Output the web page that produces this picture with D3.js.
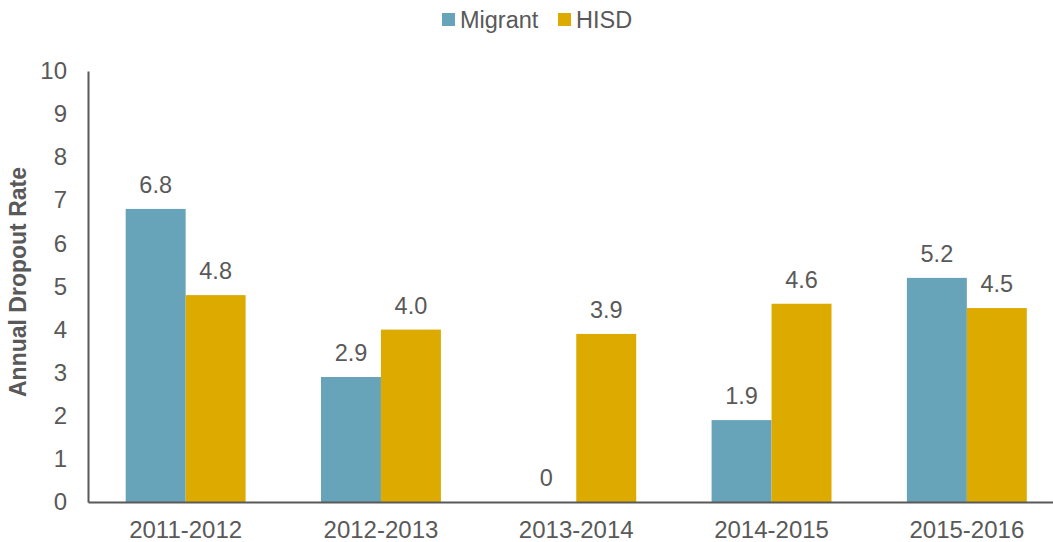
<!DOCTYPE html>
<html>
<head>
<meta charset="utf-8">
<script src="https://cdn.jsdelivr.net/npm/d3@7"></script>
<style>
  body { margin: 0; background: #fff; }
  svg { display: block; font-family: "Liberation Sans", Arial, sans-serif; }
</style>
</head>
<body>
<svg width="1053" height="542"></svg>
<script>
'use strict'

const YEARS = ['2011-2012', '2012-2013', '2013-2014', '2014-2015', '2015-2016'];
const MIGRANT = [6.8, 2.9, 0, 1.9, 5.2];
const HISD = [4.8, 4.0, 3.9, 4.6, 4.5];
const MIGRANT_LABELS = ['6.8', '2.9', '0', '1.9', '5.2'];
const HISD_LABELS = ['4.8', '4.0', '3.9', '4.6', '4.5'];
const SERIES = ['Migrant', 'HISD'];
const Y_TICKS = [0, 1, 2, 3, 4, 5, 6, 7, 8, 9, 10];

const COLORS = ['#67a3b9', '#ddaa00'];
const TEXT = '#595959';
const FONT = 23.5;
const TICK_FONT = 24;

const svg = d3.select('svg');

const x = d3.scaleBand()
  .domain(YEARS)
  .range([88, 1064.5])
  .paddingInner(0.386)
  .paddingOuter(0.193);

const inner = d3.scaleBand()
  .domain(SERIES)
  .range([0, x.bandwidth()]);

const y = d3.scaleLinear()
  .domain([0, 10])
  .range([502, 71]);

const rows = YEARS.map((yr, i) => ({
  year: yr,
  values: [
    { key: 'Migrant', v: MIGRANT[i], label: MIGRANT_LABELS[i] },
    { key: 'HISD', v: HISD[i], label: HISD_LABELS[i] }
  ]
}));

// bars
const groups = svg.append('g')
  .selectAll('g')
  .data(rows)
  .join('g')
  .attr('transform', d => `translate(${x(d.year)},0)`);

groups.selectAll('rect')
  .data(d => d.values)
  .join('rect')
  .attr('x', d => inner(d.key))
  .attr('width', inner.bandwidth())
  .attr('y', d => y(d.v))
  .attr('height', d => y(0) - y(d.v))
  .attr('fill', (d, i) => COLORS[i]);

groups.selectAll('text')
  .data(d => d.values)
  .join('text')
  .attr('x', d => inner(d.key) + inner.bandwidth() / 2)
  .attr('y', d => y(d.v) - 16)
  .attr('text-anchor', 'middle')
  .attr('font-size', FONT)
  .attr('fill', TEXT)
  .text(d => d.label);

// y axis
const yAxis = svg.append('g')
  .attr('transform', 'translate(88,0)')
  .call(d3.axisLeft(y).tickValues(Y_TICKS).tickSize(0).tickPadding(21));
yAxis.select('.domain').attr('stroke', TEXT).attr('stroke-width', 2);
yAxis.selectAll('text').attr('font-size', TICK_FONT).attr('fill', TEXT)
  .attr('font-family', '"Liberation Sans", Arial, sans-serif');

// x axis
const xAxis = svg.append('g')
  .attr('transform', 'translate(0,502)')
  .call(d3.axisBottom(x).tickSize(0).tickPadding(19));
xAxis.select('.domain').attr('stroke', TEXT).attr('stroke-width', 2);
xAxis.selectAll('text').attr('font-size', TICK_FONT).attr('fill', TEXT)
  .attr('font-family', '"Liberation Sans", Arial, sans-serif');

// y title
svg.append('text')
  .attr('transform', 'translate(26,282) rotate(-90)')
  .attr('text-anchor', 'middle')
  .attr('font-size', 23)
  .attr('font-weight', 'bold')
  .attr('fill', TEXT)
  .text('Annual Dropout Rate');

// legend
const legendX = [442, 558];
const legend = svg.append('g')
  .selectAll('g')
  .data(SERIES)
  .join('g')
  .attr('transform', (d, i) => `translate(${legendX[i]},13)`);
legend.append('rect')
  .attr('width', 13)
  .attr('height', 13)
  .attr('fill', (d, i) => COLORS[i]);
legend.append('text')
  .attr('x', 18)
  .attr('y', 15)
  .attr('font-size', FONT)
  .attr('fill', TEXT)
  .text(d => d);
</script>
</body>
</html>
